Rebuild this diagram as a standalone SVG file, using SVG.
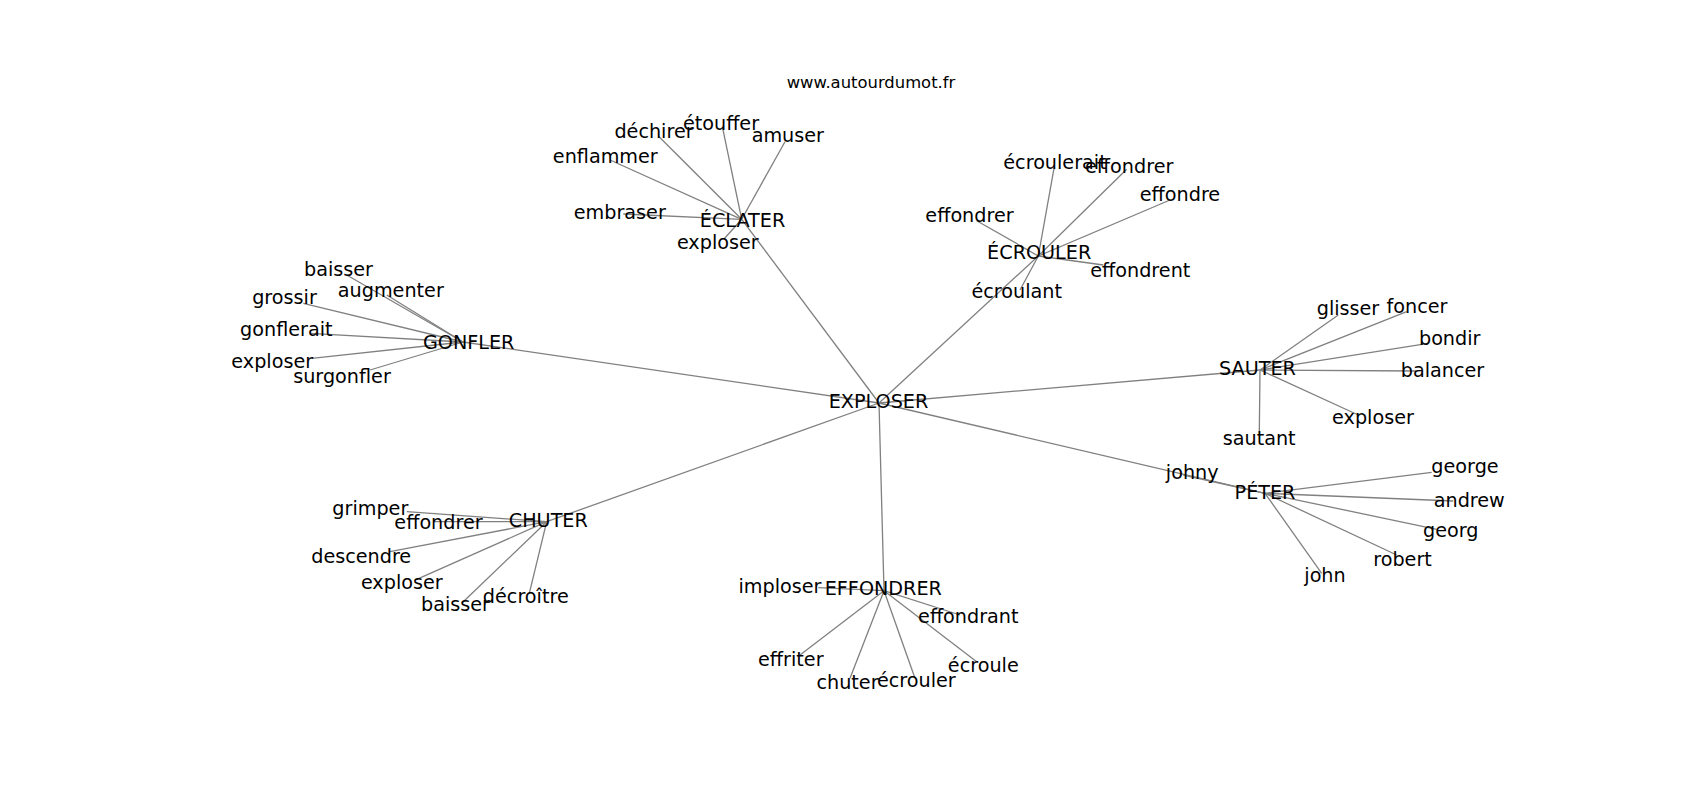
<svg xmlns="http://www.w3.org/2000/svg" width="1700" height="800" viewBox="0 0 1700 800">
<style>
.e{stroke:#808080;stroke-width:1.3;fill:none}
text{font-family:"DejaVu Sans","Liberation Sans",sans-serif;fill:#000;text-anchor:middle}
.l{font-size:19.2px}
.t{font-size:16.4px}
</style>
<rect width="1700" height="800" fill="#fff"/>
<text class="t" x="871" y="88">www.autourdumot.fr</text>
<g id="edges">
<!-- hubs to EXPLOSER -->
<line class="e" x1="879" y1="403" x2="741.7" y2="219.3"/>
<line class="e" x1="879" y1="403" x2="463" y2="342"/>
<line class="e" x1="879" y1="403" x2="1038.3" y2="256"/>
<line class="e" x1="879" y1="403" x2="1260" y2="370"/>
<line class="e" x1="879" y1="403" x2="1265" y2="493.3"/>
<line class="e" x1="879" y1="403" x2="546.7" y2="521.7"/>
<line class="e" x1="879" y1="403" x2="884" y2="590.7"/>
<!-- ECLATER -->
<line class="e" x1="741.7" y1="219.3" x2="658.3" y2="136"/>
<line class="e" x1="741.7" y1="219.3" x2="722.7" y2="128.3"/>
<line class="e" x1="741.7" y1="219.3" x2="785" y2="141.7"/>
<line class="e" x1="741.7" y1="219.3" x2="610" y2="160"/>
<line class="e" x1="741.7" y1="219.3" x2="623.3" y2="214"/>
<line class="e" x1="741.7" y1="219.3" x2="724" y2="239"/>
<!-- GONFLER -->
<line class="e" x1="463" y1="342" x2="346.7" y2="275"/>
<line class="e" x1="463" y1="342" x2="386.7" y2="295"/>
<line class="e" x1="463" y1="342" x2="303.3" y2="303.3"/>
<line class="e" x1="463" y1="342" x2="310" y2="333.3"/>
<line class="e" x1="463" y1="342" x2="311.7" y2="358.3"/>
<line class="e" x1="463" y1="342" x2="370" y2="370"/>
<!-- ECROULER -->
<line class="e" x1="1038.3" y1="256" x2="1054" y2="168.3"/>
<line class="e" x1="1038.3" y1="256" x2="1126.7" y2="169.3"/>
<line class="e" x1="1038.3" y1="256" x2="1170" y2="200"/>
<line class="e" x1="1038.3" y1="256" x2="976.7" y2="220.7"/>
<line class="e" x1="1038.3" y1="256" x2="1103.3" y2="265"/>
<line class="e" x1="1038.3" y1="256" x2="1020" y2="290"/>
<!-- SAUTER -->
<line class="e" x1="1260" y1="370" x2="1338.3" y2="315"/>
<line class="e" x1="1260" y1="370" x2="1406.7" y2="311.7"/>
<line class="e" x1="1260" y1="370" x2="1428.3" y2="343.3"/>
<line class="e" x1="1260" y1="370" x2="1416.7" y2="371"/>
<line class="e" x1="1260" y1="370" x2="1358.3" y2="415"/>
<line class="e" x1="1260" y1="370" x2="1259.3" y2="433.3"/>
<!-- PETER -->
<line class="e" x1="1265" y1="493.3" x2="1183.3" y2="475"/>
<line class="e" x1="1265" y1="493.3" x2="1431.7" y2="472.3"/>
<line class="e" x1="1265" y1="493.3" x2="1453.3" y2="501"/>
<line class="e" x1="1265" y1="493.3" x2="1436.7" y2="529.3"/>
<line class="e" x1="1265" y1="493.3" x2="1396.7" y2="555"/>
<line class="e" x1="1265" y1="493.3" x2="1321.7" y2="573.3"/>
<!-- CHUTER -->
<line class="e" x1="546.7" y1="521.7" x2="406.7" y2="511.7"/>
<line class="e" x1="546.7" y1="521.7" x2="433.3" y2="521.7"/>
<line class="e" x1="546.7" y1="521.7" x2="390" y2="551.7"/>
<line class="e" x1="546.7" y1="521.7" x2="416.7" y2="579.3"/>
<line class="e" x1="546.7" y1="521.7" x2="461.7" y2="603.3"/>
<line class="e" x1="546.7" y1="521.7" x2="529.3" y2="593.3"/>
<!-- EFFONDRER -->
<line class="e" x1="884" y1="590.7" x2="818.3" y2="587.7"/>
<line class="e" x1="884" y1="590.7" x2="960" y2="615"/>
<line class="e" x1="884" y1="590.7" x2="800" y2="655"/>
<line class="e" x1="884" y1="590.7" x2="850" y2="678.3"/>
<line class="e" x1="884" y1="590.7" x2="915" y2="678.3"/>
<line class="e" x1="884" y1="590.7" x2="976.7" y2="661.7"/>
</g>
<g id="n-exploser"><text class="l" x="878.5" y="408.3">EXPLOSER</text></g>
<g id="n-eclater"><text class="l" x="742.5" y="226.7">ÉCLATER</text></g>
<g id="n-eclater-dechirer"><text class="l" x="654" y="137.7">déchirer</text></g>
<g id="n-eclater-etouffer"><text class="l" x="721" y="130">étouffer</text></g>
<g id="n-eclater-amuser"><text class="l" x="787.8" y="141.7">amuser</text></g>
<g id="n-eclater-enflammer"><text class="l" x="605.3" y="163.3">enflammer</text></g>
<g id="n-eclater-embraser"><text class="l" x="619.8" y="219.3">embraser</text></g>
<g id="n-eclater-exploser"><text class="l" x="717.8" y="249.3">exploser</text></g>
<g id="n-gonfler"><text class="l" x="468.7" y="349.3">GONFLER</text></g>
<g id="n-gonfler-baisser"><text class="l" x="338.5" y="276">baisser</text></g>
<g id="n-gonfler-augmenter"><text class="l" x="390.8" y="297.3">augmenter</text></g>
<g id="n-gonfler-grossir"><text class="l" x="284.5" y="304">grossir</text></g>
<g id="n-gonfler-gonflerait"><text class="l" x="286.3" y="336">gonflerait</text></g>
<g id="n-gonfler-exploser"><text class="l" x="272.2" y="368.3">exploser</text></g>
<g id="n-gonfler-surgonfler"><text class="l" x="342" y="383.3">surgonfler</text></g>
<g id="n-ecrouler"><text class="l" x="1039.2" y="259.3">ÉCROULER</text></g>
<g id="n-ecrouler-ecroulerait"><text class="l" x="1055" y="169.3">écroulerait</text></g>
<g id="n-ecrouler-effondrer1"><text class="l" x="1129.2" y="172.7">effondrer</text></g>
<g id="n-ecrouler-effondre"><text class="l" x="1180" y="200.7">effondre</text></g>
<g id="n-ecrouler-effondrer2"><text class="l" x="969.5" y="221.7">effondrer</text></g>
<g id="n-ecrouler-effondrent"><text class="l" x="1140.3" y="277.3">effondrent</text></g>
<g id="n-ecrouler-ecroulant"><text class="l" x="1016.7" y="298.3">écroulant</text></g>
<g id="n-sauter"><text class="l" x="1257.5" y="375">SAUTER</text></g>
<g id="n-sauter-glisser"><text class="l" x="1348" y="315">glisser</text></g>
<g id="n-sauter-foncer"><text class="l" x="1417" y="312.7">foncer</text></g>
<g id="n-sauter-bondir"><text class="l" x="1449.7" y="345">bondir</text></g>
<g id="n-sauter-balancer"><text class="l" x="1442.5" y="377.3">balancer</text></g>
<g id="n-sauter-exploser"><text class="l" x="1373" y="424">exploser</text></g>
<g id="n-sauter-sautant"><text class="l" x="1259.2" y="445">sautant</text></g>
<g id="n-peter"><text class="l" x="1265" y="499.3">PÉTER</text></g>
<g id="n-peter-johny"><text class="l" x="1192.2" y="479.3">johny</text></g>
<g id="n-peter-george"><text class="l" x="1465" y="473.3">george</text></g>
<g id="n-peter-andrew"><text class="l" x="1469.3" y="506.7">andrew</text></g>
<g id="n-peter-georg"><text class="l" x="1450.8" y="536.7">georg</text></g>
<g id="n-peter-robert"><text class="l" x="1402.5" y="566">robert</text></g>
<g id="n-peter-john"><text class="l" x="1325" y="581.7">john</text></g>
<g id="n-chuter"><text class="l" x="548.3" y="527.3">CHUTER</text></g>
<g id="n-chuter-grimper"><text class="l" x="370.3" y="515">grimper</text></g>
<g id="n-chuter-effondrer"><text class="l" x="438.5" y="529.3">effondrer</text></g>
<g id="n-chuter-descendre"><text class="l" x="361.2" y="562.7">descendre</text></g>
<g id="n-chuter-exploser"><text class="l" x="401.8" y="589.3">exploser</text></g>
<g id="n-chuter-baisser"><text class="l" x="455.5" y="610.7">baisser</text></g>
<g id="n-chuter-decroitre"><text class="l" x="525.8" y="602.7">décroître</text></g>
<g id="n-effondrer"><text class="l" x="883.3" y="595">EFFONDRER</text></g>
<g id="n-effondrer-imploser"><text class="l" x="780" y="593.3">imploser</text></g>
<g id="n-effondrer-effondrant"><text class="l" x="968.3" y="622.7">effondrant</text></g>
<g id="n-effondrer-effriter"><text class="l" x="790.8" y="666">effriter</text></g>
<g id="n-effondrer-chuter"><text class="l" x="847.5" y="689.3">chuter</text></g>
<g id="n-effondrer-ecrouler"><text class="l" x="916.3" y="686.7">écrouler</text></g>
<g id="n-effondrer-ecroule"><text class="l" x="983.3" y="671.7">écroule</text></g>
</svg>
